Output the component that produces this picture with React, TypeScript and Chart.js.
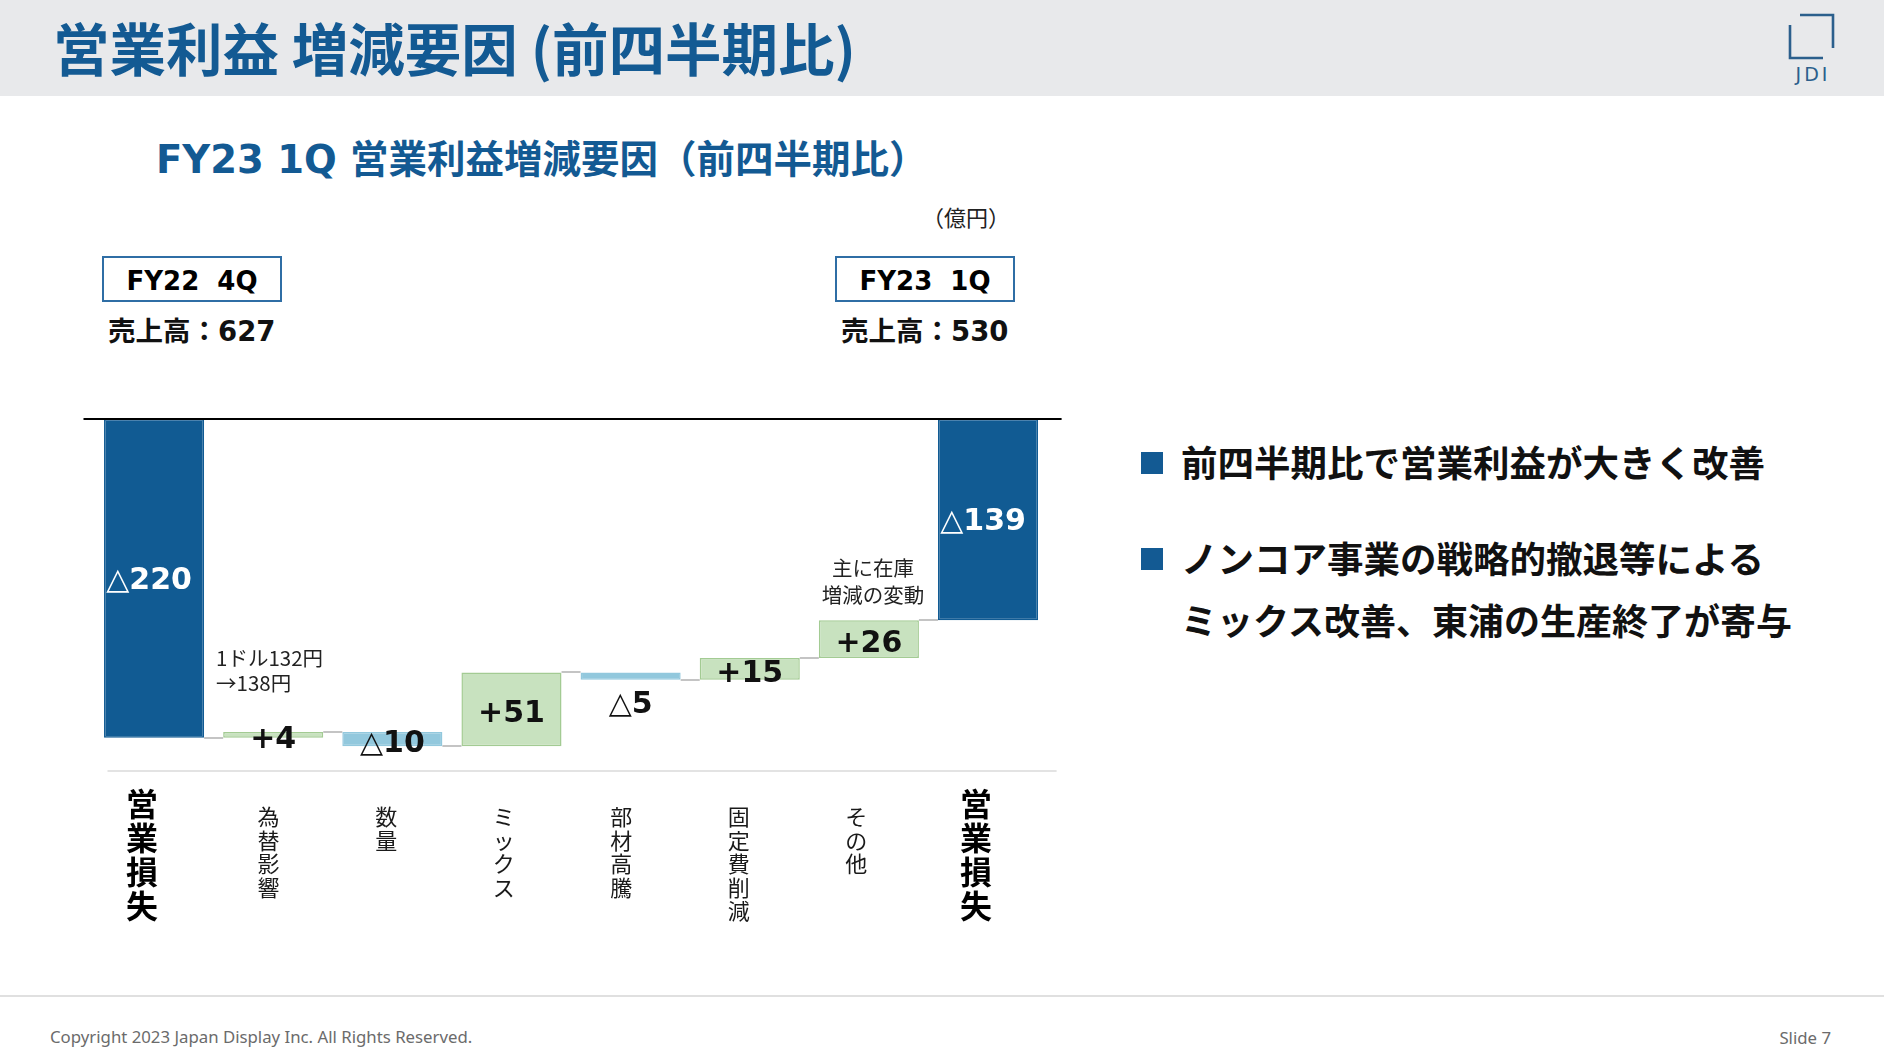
import React, { useEffect, useRef } from 'react';
import { Chart, registerables } from 'chart.js';

Chart.register(...registerables);

// ---- data ----
const categories = ['営業損失', '為替影響', '数量', 'ミックス', '部材高騰', '固定費削減', 'その他', '営業損失'];
const startTotal = -220;
const deltas = [4, -10, 51, -5, 15, 26];
const endTotal = -139;
const yMin = -243;
const yMax = 0;

const COLOR_TOTAL = '#115b93';
const COLOR_UP = '#c8e2bf';
const COLOR_UP_BORDER = '#a3cb93';
const COLOR_DOWN = '#92c8dd';
const BLUE = '#135a93';

const CJK = '"Noto Sans CJK JP", sans-serif';
const MIX = '"DejaVu Sans", "Noto Sans CJK JP", sans-serif';

function buildRanges() {
  const ranges: [number, number][] = [[startTotal, 0]];
  const levels: number[] = [startTotal];
  let run = startTotal;
  for (const d of deltas) {
    ranges.push([run, run + d]);
    run += d;
    levels.push(run);
  }
  ranges.push([endTotal, 0]);
  return { ranges, levels };
}

function fmt(v: number) {
  return v < 0 ? '△' + Math.abs(v) : '+' + v;
}

const labelTexts = [fmt(startTotal), ...deltas.map(fmt), fmt(endTotal)];
const kinds = ['total', ...deltas.map((d) => (d >= 0 ? 'up' : 'down')), 'total'];

const waterfallPlugin = {
  id: 'waterfallDeco',
  afterDatasetsDraw(chart: any) {
    const { ctx, chartArea, scales } = chart;
    const y = scales.y;
    const meta = chart.getDatasetMeta(0);
    const bars = meta.data;
    const { levels } = buildRanges();
    ctx.save();
    // connectors
    ctx.strokeStyle = '#c4c4c4';
    ctx.lineWidth = 2;
    for (let i = 0; i < bars.length - 1; i++) {
      const a = bars[i];
      const b = bars[i + 1];
      const py = Math.round(y.getPixelForValue(levels[i]));
      ctx.beginPath();
      ctx.moveTo(a.x + a.width / 2, py);
      ctx.lineTo(b.x - b.width / 2, py);
      ctx.stroke();
    }
    // zero line
    const zy = y.getPixelForValue(0);
    ctx.strokeStyle = '#000';
    ctx.lineWidth = 2;
    ctx.beginPath();
    ctx.moveTo(chartArea.left - 11, zy);
    ctx.lineTo(chartArea.right + 14, zy);
    ctx.stroke();
    // bottom line
    ctx.strokeStyle = '#e3e3e3';
    ctx.lineWidth = 2;
    ctx.beginPath();
    ctx.moveTo(chartArea.left + 13, chartArea.bottom);
    ctx.lineTo(chartArea.right + 9, chartArea.bottom);
    ctx.stroke();
    // value labels
    ctx.textAlign = 'center';
    ctx.textBaseline = 'middle';
    ctx.font = 'bold 30px "DejaVu Sans", "Noto Sans CJK JP"';
    bars.forEach((bar: any, i: number) => {
      const top = Math.min(bar.y, bar.base);
      const bottom = Math.max(bar.y, bar.base);
      const mid = (top + bottom) / 2;
      const kind = kinds[i];
      let ty = mid;
      let tx = bar.x;
      if (kind === 'total') {
        ctx.fillStyle = '#ffffff';
        tx = bar.x - 5;
        ty = mid + 3;
      } else {
        ctx.fillStyle = '#111111';
        ty = mid + 5;
        if (kind === 'down' && bottom - top < 10) ty = bottom + 25;
      }
      ctx.fillText(labelTexts[i], tx, ty);
    });
    ctx.restore();
  },
  afterDraw(chart: any) {
    const { ctx, chartArea, scales } = chart;
    const x = scales.x;
    ctx.save();
    ctx.textAlign = 'center';
    ctx.textBaseline = 'middle';
    categories.forEach((cat, i) => {
      const isTotal = i === 0 || i === categories.length - 1;
      ctx.font = isTotal ? 'bold 32px "Noto Sans CJK JP"' : '22px "Noto Sans CJK JP"';
      ctx.fillStyle = isTotal ? '#000' : '#1a1a1a';
      const step = isTotal ? 34 : 23.5;
      let cy = chartArea.bottom + (isTotal ? 33 : 46);
      const cx = x.getPixelForValue(i) + (isTotal ? -12 : -3 - 1.6 * i);
      for (const ch of Array.from(cat)) {
        ctx.fillText(ch, cx, cy);
        cy += step;
      }
    });
    ctx.restore();
  },
};

function WaterfallChart() {
  const ref = useRef<HTMLCanvasElement>(null);
  useEffect(() => {
    if (!ref.current) return;
    const { ranges } = buildRanges();
    const bg = kinds.map((k) => (k === 'total' ? COLOR_TOTAL : k === 'up' ? COLOR_UP : COLOR_DOWN));
    const bc = kinds.map((k) => (k === 'total' ? COLOR_TOTAL : k === 'up' ? COLOR_UP_BORDER : COLOR_DOWN));
    const chart = new Chart(ref.current, {
      type: 'bar',
      data: {
        labels: categories.map((c, i) => c + (i === categories.length - 1 ? ' ' : '')),
        datasets: [
          {
            data: ranges as any,
            backgroundColor: bg,
            borderColor: bc,
            borderWidth: 1.5,
            borderSkipped: false,
            barPercentage: 0.84,
            categoryPercentage: 1,
          },
        ],
      },
      options: {
        responsive: false,
        animation: false,
        events: [],
        layout: { padding: { left: 94.5, right: 52.4, top: 19, bottom: 189 } },
        plugins: { legend: { display: false }, tooltip: { enabled: false }, title: { display: false } },
        scales: {
          x: { display: false, offset: true },
          y: { display: false, min: yMin, max: yMax },
        },
      },
      plugins: [waterfallPlugin],
    });
    return () => chart.destroy();
  }, []);
  return (
    <canvas
      ref={ref}
      width={1100}
      height={560}
      style={{ position: 'absolute', left: 0, top: 400, width: 1100, height: 560 }}
    />
  );
}

type TP = { x: number; cy: number; size: number; children: any; style?: any; center?: boolean };
function T({ x, cy, size, children, style, center }: TP) {
  return (
    <div
      style={{
        position: 'absolute',
        left: x,
        top: cy - size * 0.53,
        fontSize: size,
        lineHeight: `${size}px`,
        whiteSpace: 'pre',
        transform: center ? 'translateX(-50%)' : undefined,
        ...style,
      }}
    >
      {children}
    </div>
  );
}

export default function App() {
  const boxStyle = (left: number) => ({
    position: 'absolute' as const,
    left,
    top: 256,
    width: 180,
    height: 46,
    boxSizing: 'border-box' as const,
    border: '2px solid #2f6ea5',
    display: 'flex',
    alignItems: 'center',
    justifyContent: 'center',
    paddingTop: 4,
    fontFamily: MIX,
    fontWeight: 700,
    fontSize: 26,
    color: '#000',
    whiteSpace: 'pre' as const,
  });
  return (
    <div
      style={{
        position: 'absolute',
        left: 0,
        top: 0,
        width: 1884,
        height: 1059,
        background: '#fff',
        overflow: 'hidden',
        fontFamily: CJK,
      }}
    >
      <div style={{ position: 'absolute', left: 0, top: 0, width: 1884, height: 96, background: '#e8e9eb' }} />
      <T x={53} cy={48} size={56.5} style={{ color: BLUE, fontWeight: 700, fontFamily: CJK }}>
        営業利益 増減要因 (前四半期比)
      </T>
      <svg style={{ position: 'absolute', left: 1780, top: 8, width: 64, height: 80 }} viewBox="0 0 64 80">
        <g stroke="#2b5f8c" strokeWidth={2.6} fill="none">
          <polyline points="20,7 53,7 53,40" />
          <polyline points="10,17 10,50 43,50" />
        </g>
        <text x={33} y={73} textAnchor="middle" fontSize={19} fill="#2b5f8c" fontFamily="DejaVu Sans" letterSpacing={3}>
          JDI
        </text>
      </svg>

      <T x={156} cy={161} size={38.5} style={{ color: BLUE, fontWeight: 700, fontFamily: MIX }}>
        FY23 1Q 営業利益増減要因（前四半期比）
      </T>
      <T x={966} cy={217} size={22} center style={{ color: '#222' }}>
        （億円）
      </T>

      <div style={boxStyle(102)}>FY22  4Q</div>
      <div style={boxStyle(835)}>FY23  1Q</div>
      <T x={108} cy={333} size={27.5} style={{ fontFamily: MIX, fontWeight: 700, color: '#111' }}>
        売上高：627
      </T>
      <T x={841} cy={333} size={27.5} style={{ fontFamily: MIX, fontWeight: 700, color: '#111' }}>
        売上高：530
      </T>

      <WaterfallChart />

      <T x={216} cy={658} size={20.5} style={{ color: '#222' }}>
        1ドル132円
      </T>
      <T x={216} cy={683} size={20.5} style={{ color: '#222' }}>
        →138円
      </T>
      <T x={873} cy={568} size={20.5} center style={{ color: '#222' }}>
        主に在庫
      </T>
      <T x={873} cy={595} size={20.5} center style={{ color: '#222' }}>
        増減の変動
      </T>

      <div style={{ position: 'absolute', left: 1141, top: 452, width: 22, height: 22, background: BLUE }} />
      <div style={{ position: 'absolute', left: 1141, top: 548, width: 22, height: 22, background: BLUE }} />
      <T x={1181} cy={463} size={36.5} style={{ fontWeight: 700, color: '#111' }}>
        前四半期比で営業利益が大きく改善
      </T>
      <T x={1181} cy={559} size={36.5} style={{ fontWeight: 700, color: '#111' }}>
        ノンコア事業の戦略的撤退等による
      </T>
      <T x={1181} cy={620} size={36} style={{ fontWeight: 700, color: '#111' }}>
        ミックス改善、東浦の生産終了が寄与
      </T>

      <div style={{ position: 'absolute', left: 0, top: 995, width: 1884, height: 2, background: '#e0e0e0' }} />
      <T x={50} cy={1038} size={16.8} style={{ fontFamily: '"Noto Sans", sans-serif', color: '#6b6b6b' }}>
        Copyright 2023 Japan Display Inc. All Rights Reserved.
      </T>
      <div
        style={{
          position: 'absolute',
          right: 53,
          top: 1038 - 9,
          fontSize: 16.8,
          lineHeight: '17px',
          fontFamily: '"Noto Sans", sans-serif',
          color: '#6b6b6b',
        }}
      >
        Slide 7
      </div>
    </div>
  );
}
